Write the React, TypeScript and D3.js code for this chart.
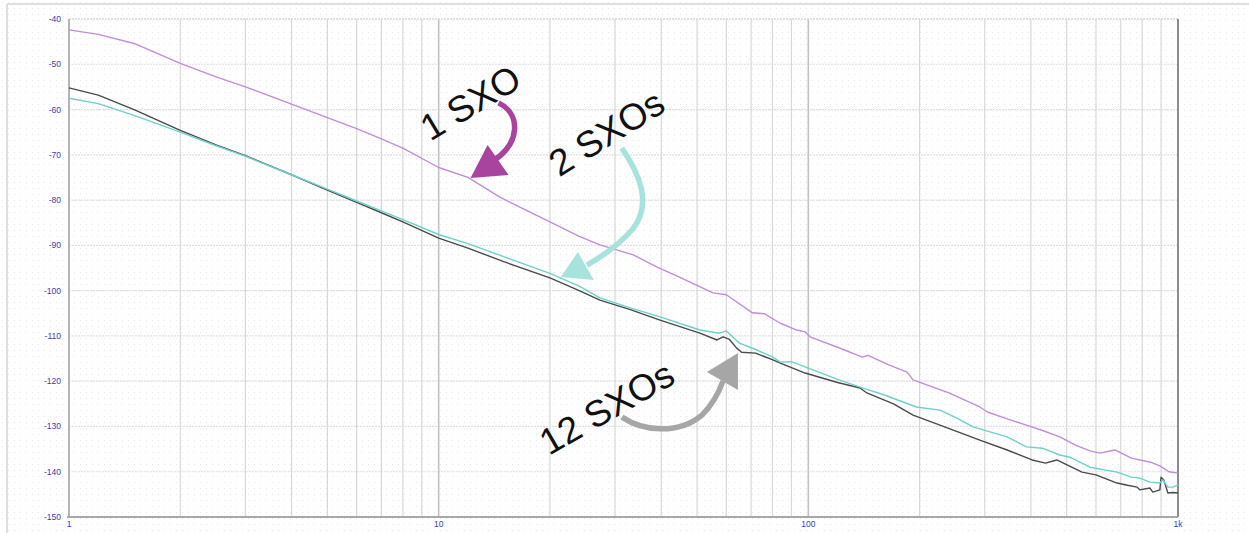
import React from 'react';
import * as d3 from 'd3';

// Phase-noise style traces, frequency (log) vs level (dB)
const freqOne = [1, 1.2, 1.5, 2, 2.5, 3, 4, 5, 6, 7, 8, 10, 12, 14.6, 17, 20, 24, 27.3, 33.6, 39, 44.8, 55.2, 60, 70.6, 76, 84, 93, 98, 101, 120, 140, 145, 165, 185, 192, 240, 291, 305, 350, 389, 430, 479, 530, 578, 615, 675, 748, 843, 893, 945, 1000];
const sxo1 = [-42.4, -43.4, -45.4, -49.8, -52.8, -55.0, -58.8, -61.8, -64.2, -66.5, -68.5, -72.8, -75.0, -79.3, -82.0, -84.8, -88.0, -89.9, -92.1, -94.8, -97.0, -100.5, -100.9, -104.9, -105.1, -107.2, -108.7, -109.1, -110.2, -112.5, -114.7, -114.3, -116.4, -118.0, -119.7, -122.6, -125.7, -126.8, -128.5, -129.7, -130.9, -132.3, -134.2, -135.4, -135.9, -135.2, -137.0, -137.9, -138.7, -140.0, -140.3];

const freqTwo = [1, 1.2, 1.5, 2, 2.5, 3, 4, 5, 6, 7, 8, 10, 12, 15, 20, 24, 27.3, 33, 39.7, 50.9, 57.6, 60, 65.1, 72, 80.2, 84, 90, 95, 100, 120, 138, 160, 196, 227, 250, 279, 345, 389, 430, 479, 510, 578, 684, 748, 788, 839, 893, 910, 939, 968, 1000];
const sxo2 = [-57.5, -58.7, -61.3, -65.0, -68.0, -70.3, -74.4, -77.6, -80.2, -82.4, -84.3, -87.6, -89.6, -92.5, -96.2, -99.0, -101.6, -103.8, -105.8, -108.7, -109.4, -108.9, -111.6, -113.0, -114.7, -115.8, -115.7, -116.4, -117.1, -119.6, -121.3, -123.0, -125.7, -126.4, -128.0, -130.1, -132.3, -134.5, -134.8, -136.3, -136.8, -139.0, -140.1, -141.2, -141.4, -142.3, -142.5, -141.8, -143.4, -143.4, -142.9];

const freqTwelve = [1, 1.2, 1.5, 2, 2.5, 3, 4, 5, 6, 7, 8, 10, 12, 15, 20, 24, 27.3, 33, 39.7, 50.9, 56.6, 58.8, 61, 64, 66, 72, 80.2, 84, 98, 120, 138, 144, 170, 192, 227, 291, 345, 403, 438, 470, 490, 550, 600, 684, 730, 775, 788, 839, 855, 893, 900, 915, 939, 968, 1000];
const sxo12 = [-55.2, -56.8, -60.0, -64.6, -67.8, -70.2, -74.4, -77.8, -80.5, -82.8, -84.8, -88.4, -90.6, -93.6, -97.2, -100.0, -102.1, -104.2, -106.5, -109.4, -110.9, -110.2, -110.7, -112.7, -113.6, -113.8, -115.3, -116.0, -118.2, -120.3, -121.5, -122.6, -125.0, -127.5, -129.7, -133.0, -135.2, -137.4, -138.1, -137.4, -138.1, -140.1, -140.7, -142.5, -143.0, -143.4, -144.0, -143.6, -144.5, -144.0, -141.2, -141.8, -144.7, -144.6, -144.7];

const yTicks = [-40, -50, -60, -70, -80, -90, -100, -110, -120, -130, -140, -150];
const xTickLabels = [
  { f: 1, label: '1' },
  { f: 10, label: '10' },
  { f: 100, label: '100' },
  { f: 1000, label: '1k' },
];
const gridFreqs = [2, 3, 4, 5, 6, 7, 8, 9, 20, 30, 40, 50, 60, 70, 80, 90, 200, 300, 400, 500, 600, 700, 800, 900];
const decadeFreqs = [10, 100];

// annotation: arrow tip anchored on data, shape offsets in px
const notes = [
  { label: '1 SXO', f: 12.2, db: -75.1, color: '#a8449e', tx: 0, ty: -75, rot: -31,
    path: 'M28,-75 C50,-64 50,-36 24,-18', head: '0,0 17,-33 38,-3' },
  { label: '2 SXOs', f: 21.4, db: -97.0, color: '#a8e2dc', tx: 46, ty: -144, rot: -32,
    path: 'M61,-129 C78,-104 92,-74 72,-48 C58,-32 44,-22 26,-12', head: '0,0 17,-25 33,3' },
  { label: '12 SXOs', f: 64.5, db: -113.8, color: '#a6a6a6', tx: -131, ty: 55, rot: -30,
    path: 'M-116,64 C-95,78 -60,82 -36,62 C-26,52 -20,42 -15,28', head: '0,0 -31,19 0,37' },
];

const W = 1249;
const H = 533;
const left = 69;
const right = 1178;
const top = 19;
const bottom = 517;

export default function App() {
  const x = d3.scaleLog().domain([1, 1000]).range([left, right]);
  const y = d3.scaleLinear().domain([-150, -40]).range([bottom, top]);

  const line = d3.line<[number, number]>()
    .x(d => x(d[0]))
    .y(d => y(d[1]));

  const series = [
    { f: freqTwelve, v: sxo12, color: '#4a4a4a' },
    { f: freqTwo, v: sxo2, color: '#6fd0cb' },
    { f: freqOne, v: sxo1, color: '#c08ed6' },
  ];

  return (
    <svg width={W} height={H} style={{ display: 'block', background: '#fff' }}>
      <style>{`body{margin:0}`}</style>
      <defs>
        <pattern id="dots" width="6" height="6" patternUnits="userSpaceOnUse">
          <rect x="2" y="2" width="1" height="1" fill="#e6e6ee" />
        </pattern>
      </defs>
      <rect x={0} y={0} width={W} height={H} fill="url(#dots)" />
      {/* outer frame */}
      <line x1={7} x2={W} y1={4} y2={4} stroke="#d4d4d4" strokeWidth={1.5} />
      <line x1={7} x2={7} y1={4} y2={H} stroke="#d4d4d4" strokeWidth={1.5} />

      {/* horizontal grid */}
      {yTicks.map(t => (
        <line key={'h' + t} x1={left} x2={right} y1={y(t)} y2={y(t)}
          stroke="#e2dde2" strokeWidth={1.2} strokeDasharray="2,1" />
      ))}
      {/* vertical grid */}
      {gridFreqs.map(f => (
        <line key={'v' + f} x1={x(f)} x2={x(f)} y1={top} y2={bottom}
          stroke="#d8d8d8" strokeWidth={1.2} />
      ))}
      {decadeFreqs.map(f => (
        <line key={'d' + f} x1={x(f)} x2={x(f)} y1={top} y2={bottom}
          stroke="#c2c2c2" strokeWidth={1.6} />
      ))}

      {/* frame */}
      <line x1={left} x2={right} y1={top} y2={top} stroke="#dcdcdc" strokeWidth={1.5} strokeDasharray="2,1" />
      <line x1={left} x2={left} y1={top} y2={bottom} stroke="#b4b4b4" strokeWidth={2} />
      <line x1={right} x2={right} y1={top} y2={bottom} stroke="#8c8c8c" strokeWidth={2} />
      <line x1={left - 2} x2={right} y1={bottom} y2={bottom} stroke="#a8a8a8" strokeWidth={2} />

      {/* axis labels */}
      {yTicks.map(t => (
        <text key={'yl' + t} x={left - 8} y={y(t) + 3} textAnchor="end"
          fontFamily="Liberation Sans, Arial, sans-serif" fontSize={8.5} fill="#3a3ab8">
          {t}
        </text>
      ))}
      {xTickLabels.map(d => (
        <text key={'xl' + d.f} x={x(d.f)} y={527} textAnchor="middle"
          fontFamily="Liberation Sans, Arial, sans-serif" fontSize={8.5} fill="#3a3ab8">
          {d.label}
        </text>
      ))}

      {/* traces */}
      {series.map((s, i) => (
        <path key={'s' + i}
          d={line(s.f.map((f, j) => [f, s.v[j]] as [number, number])) || ''}
          fill="none" stroke={s.color} strokeWidth={1.4} strokeLinejoin="round" />
      ))}

      {/* annotations */}
      {notes.map(n => {
        const px = x(n.f);
        const py = y(n.db);
        return (
          <g key={n.label} transform={`translate(${px},${py})`}>
            <path d={n.path} fill="none" stroke={n.color} strokeWidth={5.5} strokeLinecap="butt" />
            <polygon points={n.head} fill={n.color} />
            <text transform={`translate(${n.tx},${n.ty}) rotate(${n.rot})`}
              textAnchor="middle" dominantBaseline="central"
              fontFamily="Liberation Sans, Arial, sans-serif" fontSize={37} fill="#111">
              {n.label}
            </text>
          </g>
        );
      })}
    </svg>
  );
}
